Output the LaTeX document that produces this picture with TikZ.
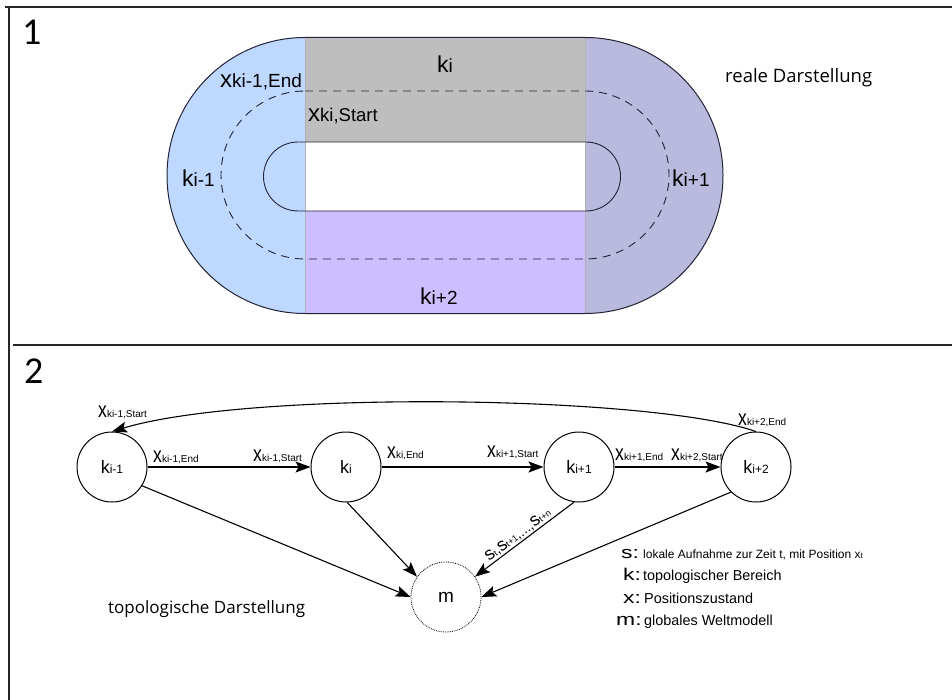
\documentclass[tikz,border=0pt]{standalone}
\usepackage{fontspec}
\setmainfont{Liberation Sans}
\newfontfamily\osans{Open Sans}
\newfontfamily\carl{Carlito}
\usetikzlibrary{arrows.meta}
\definecolor{cblue}{RGB}{190,216,255}
\definecolor{cgray}{RGB}{190,190,190}
\definecolor{cright}{RGB}{186,186,222}
\definecolor{cbottom}{RGB}{205,190,255}
\definecolor{cline}{RGB}{35,35,55}
\newcommand\myfs[1]{\fontsize{#1}{#1}\selectfont}
\newcommand\bigsmall[4]{{\myfs{#2}#1}{\myfs{#4}#3}}
\newcommand\xlab[1]{{\scalebox{0.8}[1]{\myfs{22pt}x}}{\myfs{10pt}#1}}
\newcommand\sv[1]{{\myfs{18pt}s}{\myfs{9pt}#1}}
\newcommand\legl[1]{\scalebox{1.35}[1]{\myfs{17pt}#1}}
\begin{document}
\begin{tikzpicture}[x=1pt,y=-1pt,
  knode/.style={circle, draw, line width=1pt, minimum size=70pt, inner sep=0pt},
  arr/.style={line width=1.1pt, -{Stealth[length=15pt,width=11pt,inset=3pt]}},
  frameline/.style={line width=2pt, draw=black!85},
  txt/.style={inner sep=0pt, anchor=base west},
  legtxt/.style={inner sep=0pt, anchor=base west, font=\myfs{14.4pt}}]
\useasboundingbox (0,0) rectangle (952,700);
% frame
\draw[frameline] (5,7) -- (952,7);
\draw[frameline] (9,7) -- (9,700);
\draw[frameline] (13,345) -- (952,345);
% track regions
\fill[cblue] (305,37.5) arc[start angle=270, end angle=90, radius=138] -- cycle;
\fill[cright] (585,37.5) arc[start angle=-90, end angle=90, radius=138] -- cycle;
\fill[cgray] (305,37.5) rectangle (585,142);
\fill[cbottom] (305,211) rectangle (585,313.5);
\fill[white] (305,142) rectangle (585,211);
\draw[gray!60, line width=0.6pt] (305,37.5) -- (305,313.5);
\draw[gray!60, line width=0.6pt] (585,37.5) -- (585,313.5);
\draw[cline, line width=1pt] (305,37.5) -- (585,37.5) arc[start angle=-90, end angle=90, radius=138] -- (305,313.5) arc[start angle=90, end angle=270, radius=138] -- cycle;
\draw[cline, line width=0.9pt] (298,142) -- (586,142) arc[start angle=-90, end angle=90, radius=34.5] -- (298,211) arc[start angle=90, end angle=270, radius=34.5] -- cycle;
\draw[cline, line width=0.9pt, dash pattern=on 8pt off 6pt] (305,91) -- (585,91) arc[start angle=-90, end angle=90, radius=84] -- (305,259) arc[start angle=90, end angle=270, radius=84] -- cycle;
% top labels
\node[txt] (n1) at (22,45) {\carl\myfs{38pt}1};
\node[txt] (n2) at (24,383) {\carl\myfs{38pt}2};
\node[txt] (lki) at (437,73) {\bigsmall{k}{23pt}{i}{19pt}};
\node[txt] (lkm1) at (182,187) {\bigsmall{k}{23pt}{i-1}{19pt}};
\node[txt] (lkp1) at (672,187) {\bigsmall{k}{23pt}{i+1}{19pt}};
\node[txt] (lkp2) at (420,305) {\bigsmall{k}{23pt}{i+2}{19pt}};
\node[txt] (lxe) at (220,88) {\bigsmall{x}{24pt}{ki-1,End}{19pt}};
\node[txt] (lxs) at (308,122) {\bigsmall{x}{24pt}{ki,Start}{18.5pt}};
\node[txt] (real) at (725,83) {\osans\myfs{18.5pt}reale Darstellung};
% graph
\node[knode] (km1) at (112,467) {\bigsmall{k}{18pt}{i-1}{12pt}};
\node[knode] (ki) at (346,467) {\bigsmall{k}{18pt}{i}{12pt}};
\node[knode] (kp1) at (579,467) {\bigsmall{k}{18pt}{i+1}{12pt}};
\node[knode] (kp2) at (756,467) {\bigsmall{k}{18pt}{i+2}{12pt}};
\node[circle, draw, densely dotted, line width=0.8pt, minimum size=70pt, inner sep=0pt] (m) at (446,597) {\myfs{19pt}m};
\draw[arr] (km1) -- (ki);
\draw[arr] (ki) -- (kp1);
\draw[arr] (kp1) -- (kp2);
\draw[arr] (kp2.north) .. controls (650,395) and (250,390) .. (km1.north);
\draw[arr] (km1.-32) -- (m.west);
\draw[arr] (ki.-88) -- (m.145);
\draw[arr] (kp1.-98) -- node[sloped, above=1pt, pos=0.52, inner sep=0pt] (slab) {\sv{t}{\myfs{14pt},}\sv{t+1}{\myfs{14pt},...,}\sv{t+n}} (m.35);
\draw[arr] (kp2.-135) -- (m.east);
% edge labels
\node[txt] (e1) at (153,462) {\xlab{ki-1,End}};
\node[txt] (e2) at (253,461) {\xlab{ki-1,Start}};
\node[txt] (e3) at (387,458) {\xlab{ki,End}};
\node[txt] (e4) at (487,457) {\xlab{ki+1,Start}};
\node[txt] (e5) at (615,460) {\xlab{ki+1,End}};
\node[txt] (e6) at (671,460) {\xlab{ki+2,Start}};
\node[txt] (e7) at (98,417) {\xlab{ki-1,Start}};
\node[txt] (e8) at (738,425) {\xlab{ki+2,End}};
% legend
\node[txt] (gs) at (621,558) {\legl{s:}};
\node[txt] (gst) at (643,558) {\myfs{12pt}lokale Aufnahme zur Zeit t, mit Position x{\myfs{8pt}t}};
\node[txt] (gk) at (623,580) {\legl{k:}};
\node[legtxt] (gkt) at (643,580) {topologischer Bereich};
\node[txt] (gx) at (623,603) {\legl{x:}};
\node[legtxt] (gxt) at (644,603) {Positionszustand};
\node[txt] (gm) at (616,625) {\legl{m:}};
\node[legtxt] (gmt) at (644,625) {globales Weltmodell};
\node[txt] (topo) at (108,613) {\osans\myfs{17pt}topologische Darstellung};
\end{tikzpicture}
\end{document}
